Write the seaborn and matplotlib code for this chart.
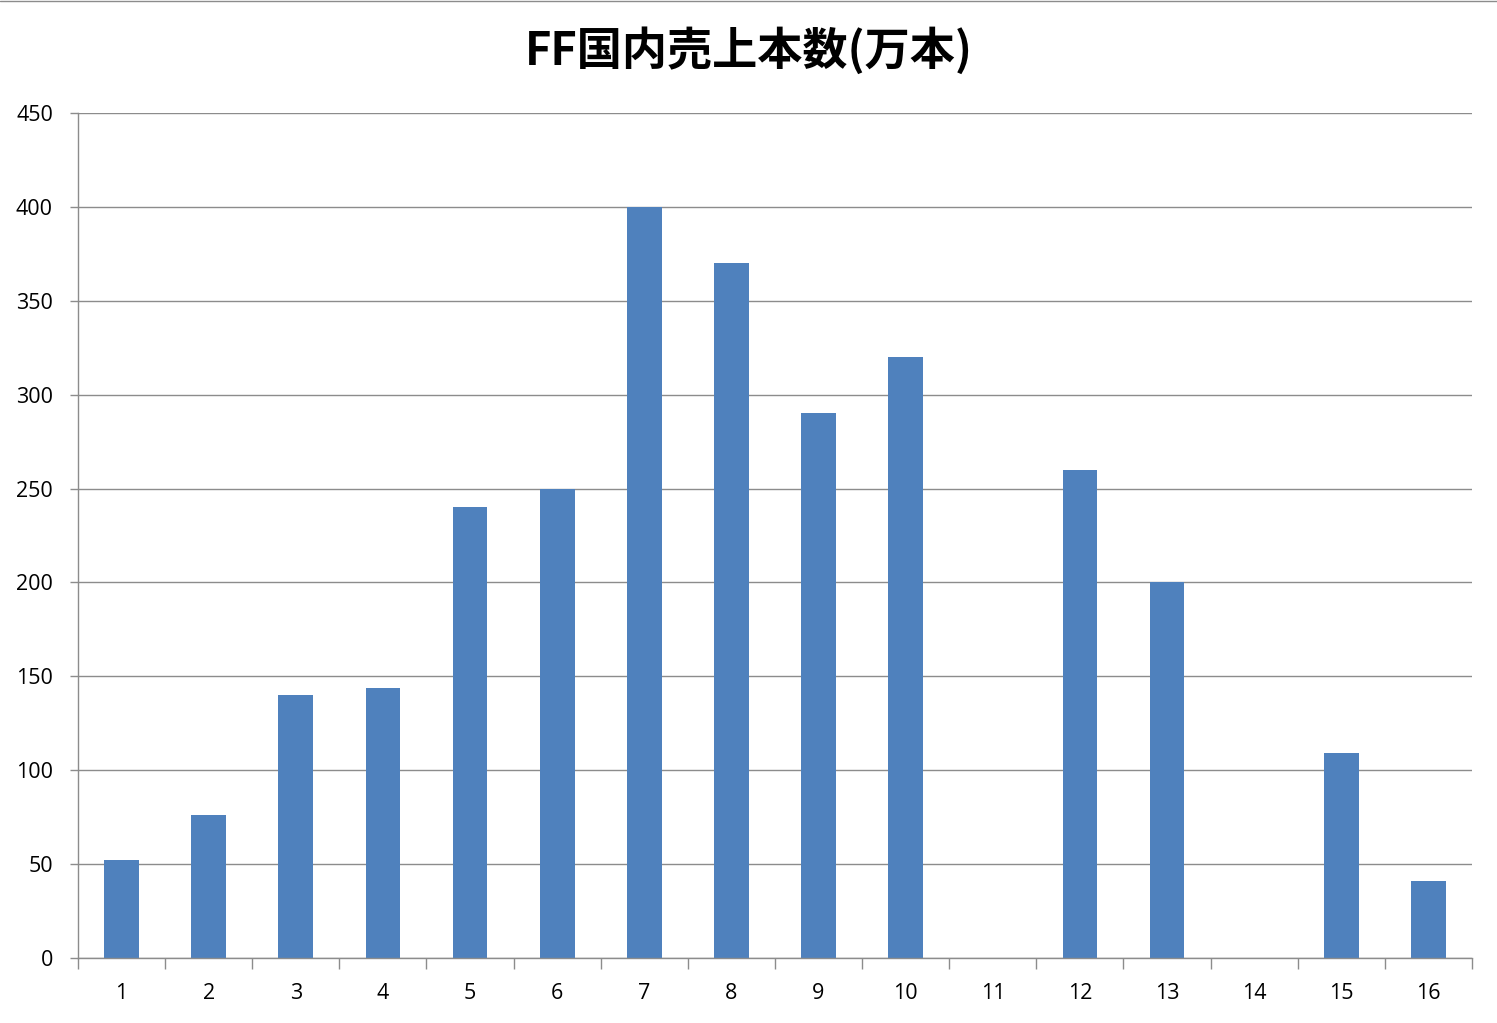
import pandas as pd
import numpy as np
import matplotlib
matplotlib.use("Agg")
import matplotlib.pyplot as plt
import seaborn as sns
from matplotlib.ticker import FixedLocator

# データ
titles = [str(i) for i in range(1, 17)]
sales = [52, 76, 140, 144, 240, 250, 400, 370, 290, 320, 0, 260, 200, 0, 109, 41]

df = pd.DataFrame({"title": titles, "sales": sales})

sns.set_theme(style="white")
plt.rcParams['font.family'] = ['Open Sans', 'Noto Sans CJK JP', 'DejaVu Sans']

fig = plt.figure(figsize=(14.97, 10.23), dpi=100)
ax = fig.add_axes([0.0521, 0.0635, 0.9312, 0.826])

sns.barplot(data=df, x="title", y="sales", color="#4F81BD", width=0.4,
            saturation=1, linewidth=0, ax=ax)

ax.set_xlim(-0.5, len(titles) - 0.5)
ax.set_ylim(0, 450)
ax.set_yticks(np.arange(0, 451, 50))
ax.yaxis.grid(True, color="#8c8c8c", linewidth=1)
ax.set_axisbelow(True)

for s in ["top", "right"]:
    ax.spines[s].set_visible(False)
for s in ["left", "bottom"]:
    ax.spines[s].set_color("#8c8c8c")
    ax.spines[s].set_linewidth(1)

# 目盛り（カテゴリ境界）
ax.xaxis.set_minor_locator(FixedLocator(np.arange(-0.5, len(titles), 1.0)))
ax.tick_params(axis="x", which="major", length=0, pad=18, labelsize=15.5, colors="black")
ax.tick_params(axis="x", which="minor", length=8, width=1, color="#8c8c8c", bottom=True)
ax.tick_params(axis="y", which="major", length=6, width=1, color="#8c8c8c", left=True,
               labelsize=15.5, colors="black", pad=12)
ax.set_xlabel("")
ax.set_ylabel("")

fig.suptitle("FF国内売上本数(万本)", y=0.973, fontsize=32.5, fontweight="bold",
             color="black", family=['Noto Sans CJK JP', 'DejaVu Sans'])

fig.add_artist(plt.Line2D([0, 1], [0.999, 0.999], color="#8c8c8c", linewidth=1,
                          transform=fig.transFigure))

fig.savefig("out.png", dpi=100)
